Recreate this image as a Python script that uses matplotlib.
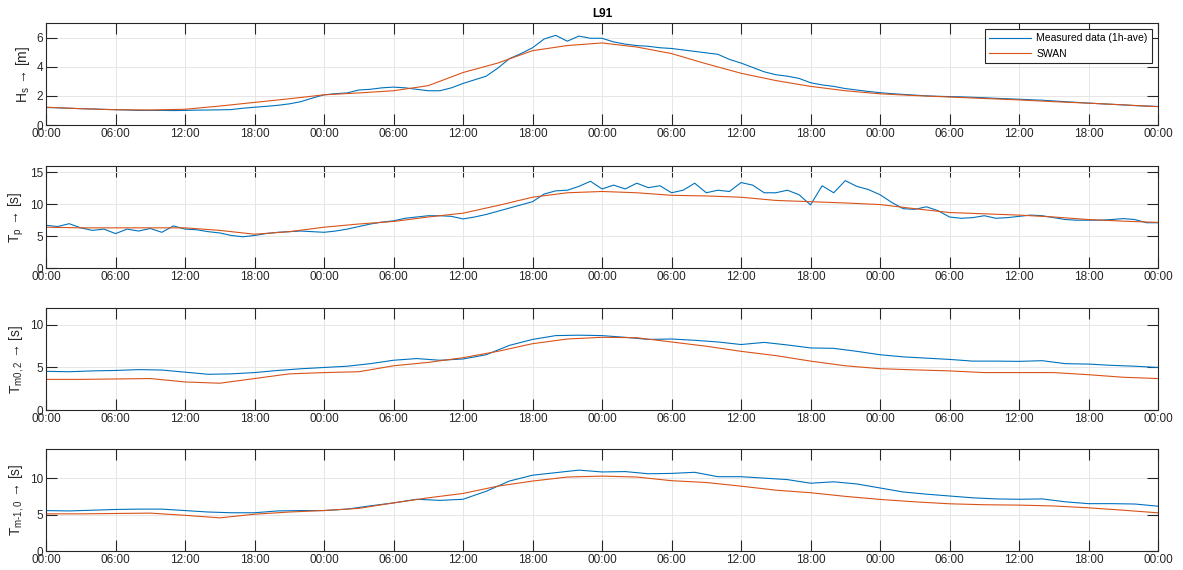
import numpy as np
import matplotlib
matplotlib.use("Agg")
import matplotlib.pyplot as plt
from matplotlib.ticker import MultipleLocator, FuncFormatter

plt.rcParams['font.family'] = ['Liberation Sans', 'DejaVu Sans']
plt.rcParams['mathtext.fontset'] = 'custom'
plt.rcParams['mathtext.rm'] = 'Liberation Sans'
plt.rcParams['mathtext.it'] = 'Liberation Sans'

# time axis in hours from start (4 days)
t_hour = np.arange(0, 97, 1)
t_2h = np.arange(0, 97, 2)
t_swan = np.arange(0, 97, 3)

# --- Hs [m]
hs_meas = [1.2, 1.18, 1.15, 1.12, 1.1, 1.07, 1.05, 1.03, 1.0, 1.0, 1.0, 0.99, 1.0,
           1.02, 1.03, 1.04, 1.06, 1.15, 1.22, 1.28, 1.35, 1.45, 1.6, 1.85, 2.07,
           2.15, 2.2, 2.4, 2.45, 2.55, 2.6, 2.55, 2.45, 2.35, 2.35, 2.55, 2.85,
           3.1, 3.35, 3.9, 4.55, 4.9, 5.3, 5.9, 6.15, 5.75, 6.1, 5.95, 5.95,
           5.7, 5.55, 5.45, 5.4, 5.3, 5.25, 5.15, 5.05, 4.95, 4.85, 4.5, 4.25,
           3.95, 3.65, 3.45, 3.35, 3.2, 2.9, 2.75, 2.65, 2.5, 2.4, 2.3, 2.22,
           2.15, 2.1, 2.05, 2.0, 1.97, 1.95, 1.93, 1.9, 1.87, 1.83, 1.8, 1.77,
           1.73, 1.7, 1.65, 1.6, 1.55, 1.5, 1.46, 1.42, 1.38, 1.33, 1.3, 1.27]
hs_swan = [1.22, 1.12, 1.05, 1.03, 1.08, 1.3, 1.55, 1.8, 2.07, 2.2, 2.35, 2.7,
           3.6, 4.25, 5.1, 5.45, 5.63, 5.35, 4.9, 4.2, 3.55, 3.05, 2.65, 2.35,
           2.14, 2.02, 1.92, 1.82, 1.72, 1.6, 1.5, 1.38, 1.26]

# --- Tp [s]
tp_meas = [6.7, 6.5, 6.95, 6.3, 5.9, 6.1, 5.4, 6.1, 5.8, 6.2, 5.6, 6.6, 6.1,
           6.0, 5.7, 5.5, 5.1, 4.9, 5.1, 5.4, 5.6, 5.7, 5.8, 5.7, 5.6,
           5.8, 6.1, 6.5, 6.9, 7.2, 7.4, 7.8, 8.0, 8.2, 8.2, 8.1, 7.7,
           8.0, 8.4, 8.9, 9.4, 9.9, 10.4, 11.6, 12.1, 12.2, 12.8, 13.6, 12.4,
           13.0, 12.4, 13.3, 12.6, 12.9, 11.8, 12.2, 13.3, 11.8, 12.2, 12.0, 13.4,
           13.0, 11.8, 11.8, 12.2, 11.5, 9.9, 12.9, 11.8, 13.7, 12.8, 12.3, 11.5,
           10.3, 9.3, 9.2, 9.6, 9.0, 8.0, 7.8, 7.9, 8.2, 7.8, 7.9, 8.1,
           8.3, 8.2, 7.9, 7.6, 7.5, 7.5, 7.5, 7.6, 7.75, 7.6, 7.1, 7.1]
tp_swan = [6.4, 6.3, 6.3, 6.3, 6.3, 5.9, 5.3, 5.7, 6.4, 6.9, 7.3, 8.0,
           8.6, 9.8, 11.1, 11.8, 12.0, 11.8, 11.4, 11.3, 11.1, 10.6, 10.4, 10.2,
           9.95, 9.3, 8.7, 8.5, 8.3, 8.0, 7.6, 7.35, 7.15]

# --- Tm0,2 [s]
tm02_meas = [4.55, 4.5, 4.6, 4.65, 4.75, 4.7, 4.45, 4.2, 4.25, 4.4, 4.65, 4.85,
             5.0, 5.15, 5.45, 5.85, 6.05, 5.85, 6.0, 6.5, 7.6, 8.3, 8.75, 8.8,
             8.75, 8.55, 8.3, 8.35, 8.2, 8.0, 7.7, 7.95, 7.65, 7.3, 7.25, 6.9,
             6.5, 6.25, 6.1, 5.95, 5.75, 5.75, 5.72, 5.8, 5.45, 5.4, 5.25, 5.15, 5.0]
tm02_swan = [3.6, 3.6, 3.65, 3.7, 3.3, 3.15, 3.7, 4.25, 4.4, 4.5, 5.2, 5.6,
             6.15, 6.9, 7.8, 8.35, 8.55, 8.5, 8.0, 7.5, 6.9, 6.4, 5.75, 5.2,
             4.86, 4.72, 4.6, 4.4, 4.4, 4.4, 4.15, 3.85, 3.7]

# --- Tm-1,0 [s]
tm10_meas = [5.55, 5.5, 5.6, 5.7, 5.75, 5.75, 5.55, 5.35, 5.25, 5.25, 5.5, 5.55,
             5.55, 5.75, 6.2, 6.6, 7.1, 6.95, 7.1, 8.2, 9.6, 10.4, 10.75, 11.1,
             10.85, 10.9, 10.6, 10.65, 10.8, 10.2, 10.2, 10.0, 9.8, 9.3, 9.5, 9.2,
             8.65, 8.1, 7.8, 7.55, 7.3, 7.15, 7.1, 7.15, 6.75, 6.5, 6.5, 6.45, 6.15]
tm10_swan = [5.1, 5.1, 5.15, 5.2, 4.9, 4.55, 5.05, 5.35, 5.56, 5.85, 6.6, 7.3,
             7.9, 8.9, 9.6, 10.15, 10.28, 10.15, 9.65, 9.4, 8.9, 8.35, 8.0, 7.5,
             7.08, 6.75, 6.48, 6.35, 6.3, 6.18, 5.93, 5.6, 5.24]

panels = [
    (t_hour, hs_meas, hs_swan, 'H$_\\mathrm{s}$ \u2192 [m]', [0, 2, 4, 6], 7),
    (t_hour, tp_meas, tp_swan, 'T$_\\mathrm{p}$ \u2192 [s]', [0, 5, 10, 15], 16),
    (t_2h, tm02_meas, tm02_swan, 'T$_\\mathrm{m0,2}$ \u2192 [s]', [0, 5, 10], 12),
    (t_2h, tm10_meas, tm10_swan, 'T$_\\mathrm{m\\text{-}1,0}$ \u2192 [s]', [0, 5, 10], 14),
]

blue = '#0072BD'
red = '#D95319'
dark = '#262626'

fig = plt.figure(figsize=(11.83, 5.70), dpi=100)
bottoms = [0.7807, 0.5298, 0.2807, 0.0333]

for i, (tm, meas, swan, lab, yt, ytop) in enumerate(panels):
    ax = fig.add_axes([0.0389, bottoms[i], 0.940, 0.179])
    ax.plot(tm, meas, color=blue, lw=0.8, label='Measured data (1h-ave)')
    ax.plot(t_swan, swan, color=red, lw=0.8, label='SWAN')
    ax.set_xlim(0, 96)
    ax.set_ylim(0, ytop)
    ax.set_yticks(yt)
    ax.xaxis.set_major_locator(MultipleLocator(6))
    ax.xaxis.set_major_formatter(FuncFormatter(lambda v, p: '%02d:00' % (int(round(v)) % 24)))
    ax.grid(True, color='#e6e6e6', lw=0.7)
    ax.set_axisbelow(True)
    ax.tick_params(direction='in', length=8, width=0.8, top=True, right=True,
                   colors=dark, labelsize=8.5, pad=2)
    for s in ax.spines.values():
        s.set_color(dark)
        s.set_linewidth(0.8)
    ax.set_ylabel(lab, fontsize=10, color=dark, labelpad=3)
    if i == 0:
        ax.set_title('L91', fontsize=8.5, fontweight='bold', pad=4)
        leg = ax.legend(loc='upper right', fontsize=7.5, fancybox=False,
                        framealpha=1, edgecolor=dark, handlelength=4.0,
                        borderaxespad=0.6, borderpad=0.4, handletextpad=0.5)
        leg.get_frame().set_linewidth(0.8)

fig.savefig('out.png', dpi=100)
